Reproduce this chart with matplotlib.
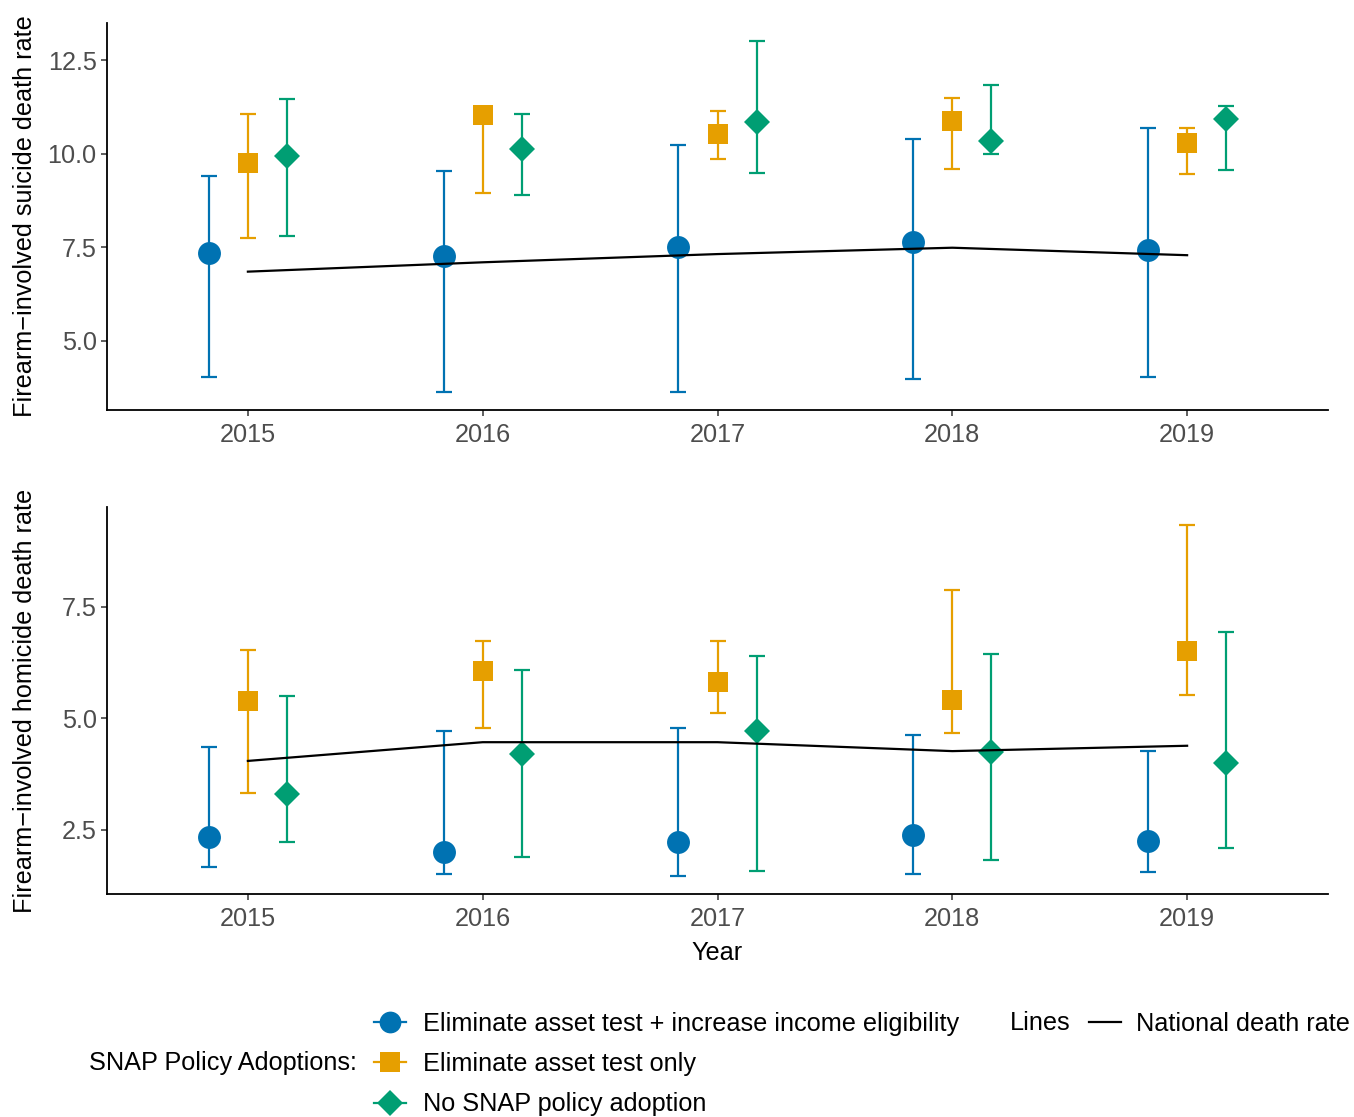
import matplotlib
matplotlib.use("Agg")
import matplotlib.pyplot as plt
from matplotlib.lines import Line2D
import numpy as np

plt.rcParams['font.family'] = ['Liberation Sans', 'DejaVu Sans']

years = [2015, 2016, 2017, 2018, 2019]
groups = ["Eliminate asset test + increase income eligibility",
          "Eliminate asset test only",
          "No SNAP policy adoption"]
colors = ["#0072B2", "#E69F00", "#009E73"]
markers = ["o", "s", "D"]

# Suicide panel
sui_est = [[7.36, 7.28, 7.51, 7.64, 7.44],
           [9.75, 11.04, 10.53, 10.88, 10.30],
           [9.95, 10.14, 10.84, 10.34, 10.92]]
sui_lo = [[4.02, 3.64, 3.62, 3.99, 4.03],
          [7.74, 8.95, 9.86, 9.59, 9.47],
          [7.81, 8.89, 9.49, 10.00, 9.56]]
sui_hi = [[9.42, 9.53, 10.24, 10.39, 10.69],
          [11.06, 11.09, 11.15, 11.49, 10.69],
          [11.47, 11.06, 13.03, 11.83, 11.28]]
sui_nat = [6.85, 7.10, 7.32, 7.49, 7.29]

# Homicide panel
hom_est = [[2.34, 1.99, 2.22, 2.37, 2.24],
           [5.38, 6.05, 5.80, 5.40, 6.50],
           [3.30, 4.19, 4.71, 4.23, 4.00]]
hom_lo = [[1.67, 1.51, 1.45, 1.51, 1.55],
          [3.32, 4.78, 5.11, 4.67, 5.51],
          [2.22, 1.88, 1.57, 1.82, 2.08]]
hom_hi = [[4.35, 4.72, 4.77, 4.62, 4.27],
          [6.53, 6.74, 6.72, 7.88, 9.34],
          [5.50, 6.07, 6.39, 6.44, 6.93]]
hom_nat = [4.04, 4.46, 4.46, 4.26, 4.38]

ylabels = ["Firearm\u2212involved suicide death rate",
           "Firearm\u2212involved homicide death rate"]
suicide_ticks = [5.0, 7.5, 10.0, 12.5]
homicide_ticks = [2.5, 5.0, 7.5]

W, H = 1354, 1117
fig = plt.figure(figsize=(W / 100, H / 100), dpi=100)

FS = 18.2
grey = "#4D4D4D"
msizes = {"o": 16.5, "s": 14.5, "D": 13.5}
offsets = [-1 / 6, 0, 1 / 6]

def panel(rect, est, lo, hi, nat, ylabel, yticks, xlabel=None):
    ax = fig.add_axes(rect)
    x = np.array(years, dtype=float)
    for g in range(3):
        xs = x + offsets[g]
        e = np.array(est[g]); l = np.array(lo[g]); h = np.array(hi[g])
        ax.errorbar(xs, e, yerr=[e - l, h - e], fmt="none", ecolor=colors[g],
                    elinewidth=1.6, capsize=5.5, capthick=1.6, zorder=2)
        ax.plot(xs, e, linestyle="none", marker=markers[g], color=colors[g],
                markersize=msizes[markers[g]], markeredgewidth=0, zorder=3)
    ax.plot(x, nat, color="black", linewidth=1.6, zorder=4)
    allv = np.concatenate([np.ravel(lo), np.ravel(hi)])
    lo_v, hi_v = allv.min(), allv.max()
    pad = 0.05 * (hi_v - lo_v)
    ax.set_ylim(lo_v - pad, hi_v + pad)
    ax.set_xlim(years[0] - 0.6, years[-1] + 0.6)
    ax.set_xticks(years)
    ax.set_xticklabels([str(y) for y in years])
    ax.set_yticks(yticks)
    ax.set_yticklabels([f"{t:.1f}" for t in yticks])
    for s in ["top", "right"]:
        ax.spines[s].set_visible(False)
    for s in ["left", "bottom"]:
        ax.spines[s].set_linewidth(1.3)
        ax.spines[s].set_color("black")
    ax.tick_params(axis="both", labelsize=FS, labelcolor=grey, color="#333333",
                   length=4.5, width=1.1, pad=3)
    ax.tick_params(axis="x", pad=5)
    ax.set_ylabel(ylabel, fontsize=FS, color="black")
    ax.yaxis.set_label_coords(-0.057, 0.5)
    if xlabel:
        ax.set_xlabel(xlabel, fontsize=FS, color="black", labelpad=7)
    return ax

left = 107 / W
width = (1328 - 107) / W
panel([left, 1 - 410 / H, width, 387 / H], sui_est, sui_lo, sui_hi, sui_nat,
      ylabels[0], suicide_ticks)
panel([left, 1 - 894 / H, width, 387 / H], hom_est, hom_lo, hom_hi, hom_nat,
      ylabels[1], homicide_ticks, xlabel="Year")

# Legend
handles = [Line2D([0], [0], color=colors[g], marker=markers[g],
                  markersize=msizes[markers[g]] * 0.95, markeredgewidth=0,
                  linewidth=1.6) for g in range(3)]
fig.legend(handles, groups, loc="upper left",
           bbox_to_anchor=(374 / W, 1 - 1012 / H), frameon=False,
           fontsize=FS, handlelength=1.25, handletextpad=0.68,
           labelspacing=0.64, borderpad=0, borderaxespad=0)
fig.text(357 / W, 1 - 1063 / H, "SNAP Policy Adoptions:", fontsize=FS,
         ha="right", va="center")
fig.text(1010 / W, 1 - 1023 / H, "Lines", fontsize=FS, ha="left", va="center")
fig.legend([Line2D([0], [0], color="black", linewidth=1.6)],
           ["National death rate"], loc="upper left",
           bbox_to_anchor=(1089 / W, 1 - 1012 / H), frameon=False,
           fontsize=FS, handlelength=1.25, handletextpad=0.6,
           borderpad=0, borderaxespad=0)

fig.savefig("out.png", dpi=100, facecolor="white")
